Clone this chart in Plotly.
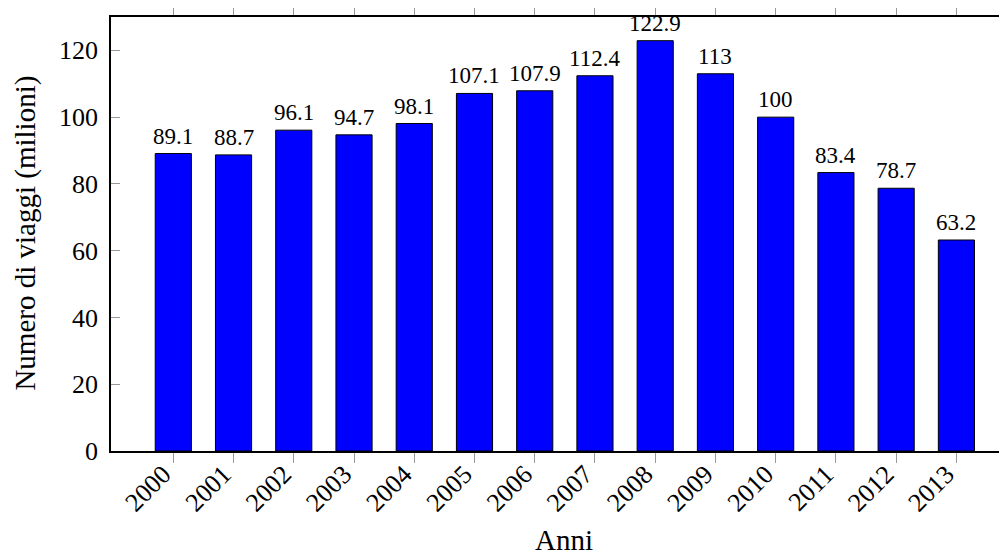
import plotly.graph_objects as go

years = ["2000", "2001", "2002", "2003", "2004", "2005", "2006",
         "2007", "2008", "2009", "2010", "2011", "2012", "2013"]
trips = [89.1, 88.7, 96.1, 94.7, 98.1, 107.1, 107.9,
         112.4, 122.9, 113, 100, 83.4, 78.7, 63.2]
labels = ["89.1", "88.7", "96.1", "94.7", "98.1", "107.1", "107.9",
          "112.4", "122.9", "113", "100", "83.4", "78.7", "63.2"]
y_ticks = [0, 20, 40, 60, 80, 100, 120]

FONT = "Liberation Serif"
OFF = 8  # page body margin
W, H = 1007 - OFF, 558 - OFF
L, T = 110.7 - OFF, 16.5 - OFF
plot_bottom = 451 - OFF
B = H - plot_bottom
R = 0
pw = W - L - R
ph = H - T - B

fig = go.Figure()
fig.add_trace(go.Bar(
    x=years, y=trips, width=0.6,
    marker=dict(color="#0000ff", line=dict(color="black", width=1)),
    hoverinfo="x+y",
))

for i, (v, lab) in enumerate(zip(trips, labels)):
    fig.add_annotation(
        x=i, y=v, text=lab, xref="x", yref="y",
        xanchor="center", yanchor="bottom", yshift=3,
        showarrow=False, font=dict(family=FONT, size=23, color="black"),
    )

fig.update_layout(
    width=W, height=H,
    margin=dict(l=L, r=R, t=T, b=B, autoexpand=False),
    paper_bgcolor="white", plot_bgcolor="white",
    showlegend=False,
    font=dict(family=FONT, size=26, color="black"),
    xaxis=dict(
        type="category", range=[-1.034, 13.84],
        showline=True, linecolor="black", linewidth=1.5, mirror="ticks",
        ticks="outside", ticklen=10, tickcolor="#999999", tickwidth=1,
        tickangle=-45, tickfont=dict(family=FONT, size=26, color="black"),
        ticklabelstandoff=-14, ticklabelshift=-10,
        showgrid=False, zeroline=False, automargin=False,
    ),
    yaxis=dict(
        range=[0, 130], tickvals=y_ticks,
        showline=True, linecolor="black", linewidth=1.5, mirror=False,
        ticks="inside", ticklen=9, tickcolor="#999999", tickwidth=1,
        tickfont=dict(family=FONT, size=26, color="black"),
        ticklabelstandoff=6,
        showgrid=False, zeroline=False, automargin=False,
    ),
    bargap=0.4,
)

fig.add_annotation(
    text="Numero di viaggi (milioni)", xref="paper", yref="paper",
    x=(25 - OFF - L) / pw, y=(plot_bottom - (233 - OFF)) / ph,
    xanchor="center", yanchor="middle",
    textangle=-90, showarrow=False, font=dict(family=FONT, size=29, color="black"),
)
fig.add_annotation(
    text="Anni", xref="paper", yref="paper",
    x=(564 - OFF - L) / pw, y=(plot_bottom - (558 - OFF)) / ph,
    xanchor="center", yanchor="bottom",
    showarrow=False, font=dict(family=FONT, size=29, color="black"),
)

fig.write_html("out.html")
